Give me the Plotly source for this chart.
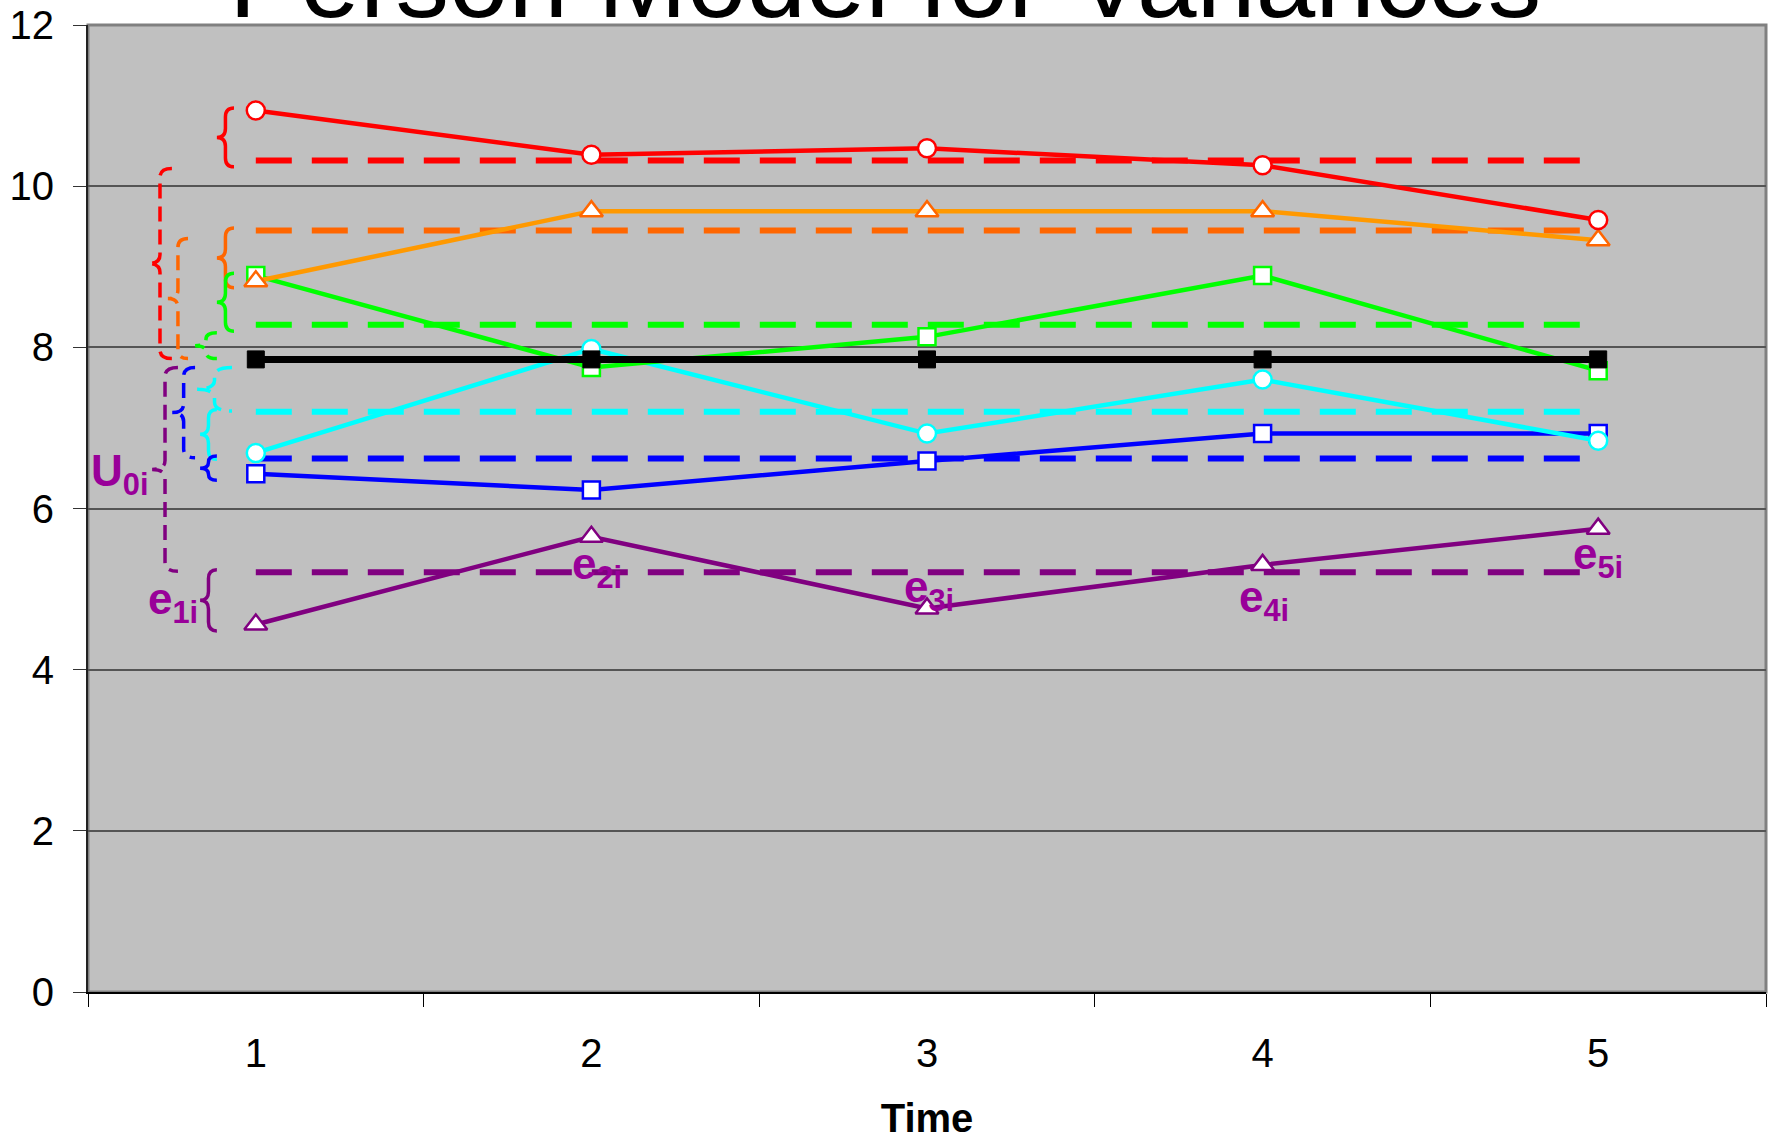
import plotly.graph_objects as go

# ---------------- data ----------------
times = [1, 2, 3, 4, 5]
tick_labels = ["1", "2", "3", "4", "5"]

red = [10.94, 10.39, 10.47, 10.26, 9.58]
orange = [8.82, 9.69, 9.69, 9.69, 9.33]
green = [8.89, 7.75, 8.13, 8.89, 7.71]
cyan = [6.69, 7.98, 6.93, 7.60, 6.84]
blue = [6.43, 6.23, 6.59, 6.93, 6.93]
purple = [4.56, 5.65, 4.76, 5.30, 5.75]

mean_red = 10.32
mean_orange = 9.45
mean_green = 8.28
mean_cyan = 7.20
mean_blue = 6.62
mean_purple = 5.21
grand_mean = [7.85, 7.85, 7.85, 7.85, 7.85]

y_ticks = [0, 2, 4, 6, 8, 10, 12]

title_text = "Person Model for Variances"
x_title = "Time"

# ---------------- styling ----------------
FONT = "Liberation Sans, Arial, sans-serif"
LABEL_COLOR = "#990099"

persons = [
    # name, values, mean, line colour, mean colour, symbol, marker line colour, solid brace x, dashed brace x
    ("red", red, mean_red, "#FF0000", "#FF0000", "circle", "#FF0000", (0.935, 0.884), (0.750, 0.679)),
    ("orange", orange, mean_orange, "#FF9900", "#FF6600", "triangle-up", "#FF6600", (0.935, 0.884), (0.798, 0.738)),
    ("green", green, mean_green, "#00FF00", "#00FF00", "square", "#00FF00", (0.935, 0.884), (0.884, 0.819)),
    ("cyan", cyan, mean_cyan, "#00FFFF", "#00FFFF", "circle", "#00FFFF", (0.884, 0.834), (0.929, 0.825)),
    ("blue", blue, mean_blue, "#0000FF", "#0000FF", "square", "#0000FF", (0.884, 0.834), (0.819, 0.751)),
    ("purple", purple, mean_purple, "#800080", "#800080", "triangle-up", "#800080", (0.884, 0.834), (0.768, 0.691)),
]

fig = go.Figure()

# dashed person means
for name, vals, m, lc, mc, sym, mlc, sbx, dbx in persons:
    fig.add_trace(go.Scatter(
        x=[times[0], times[-1]], y=[m, m], mode="lines",
        line=dict(color=mc, width=6, dash="36px,20px"),
        hoverinfo="skip", showlegend=False))

marker_size = {"circle": 18, "triangle-up": 20, "square": 17}


def add_person(p):
    name, vals, m, lc, mc, sym, mlc, sbx, dbx = p
    fig.add_trace(go.Scatter(
        x=times, y=vals, mode="lines+markers", name=name,
        line=dict(color=lc, width=4.5),
        marker=dict(symbol=sym, size=marker_size[sym], color="white",
                    line=dict(color=mlc, width=2.5)),
        showlegend=False))


by_name = {p[0]: p for p in persons}
for nm in ["purple", "blue", "cyan", "green"]:
    add_person(by_name[nm])

# grand mean (black)
fig.add_trace(go.Scatter(
    x=times, y=grand_mean, mode="lines+markers",
    line=dict(color="black", width=7),
    marker=dict(symbol="square", size=17, color="black", line=dict(color="black", width=1)),
    showlegend=False))

for nm in ["orange", "red"]:
    add_person(by_name[nm])


# ---------------- braces ----------------
def brace_path(xr, xt, ytop, ybot, rmax=0.11):
    xm = (xr + xt) / 2.0
    ym = (ytop + ybot) / 2.0
    r = min(rmax, (ytop - ybot) / 4.0)
    return (f"M {xr},{ytop} Q {xm},{ytop} {xm},{ytop - r} "
            f"L {xm},{ym + r} Q {xm},{ym} {xt},{ym} "
            f"Q {xm},{ym} {xm},{ym - r} L {xm},{ybot + r} "
            f"Q {xm},{ybot} {xr},{ybot}")


shapes = []
gm = grand_mean[0]
for name, vals, m, lc, mc, sym, mlc, sbx, dbx in persons:
    # residual brace at time 1 (solid)
    top = max(vals[0], m) + 0.03
    bot = min(vals[0], m) - 0.08
    shapes.append(dict(type="path", xref="x", yref="y",
                       path=brace_path(sbx[0], sbx[1], top, bot),
                       line=dict(color=mc, width=3.5)))
    # person-level deviation brace (dashed)
    top = max(gm, m) - 0.1
    bot = min(gm, m) + 0.01
    shapes.append(dict(type="path", xref="x", yref="y",
                       path=brace_path(dbx[0], dbx[1], top, bot),
                       line=dict(color=mc, width=3.5, dash="15px,8px")))

# plot-area border
shapes.append(dict(type="rect", xref="paper", yref="paper", x0=0, x1=1, y0=0, y1=1,
                   line=dict(color="#808080", width=3), layer="below"))

# ---------------- labels ----------------
lab_font = dict(family=FONT, size=44, color=LABEL_COLOR)
p_dash_x = by_name["purple"][8]
p_sol_x = by_name["purple"][7]
annotations = [
    dict(text="<b>U<sub>0i</sub></b>", x=p_dash_x[1], y=(gm + mean_purple) / 2,
         xref="x", yref="y", xanchor="right", yanchor="middle", showarrow=False,
         font=lab_font, xshift=-2, yshift=-8),
    dict(text="<b>e<sub>1i</sub></b>", x=p_sol_x[1], y=(purple[0] + mean_purple) / 2,
         xref="x", yref="y", xanchor="right", yanchor="middle", showarrow=False,
         font=lab_font, xshift=0, yshift=-4),
    dict(text="<b>e<sub>2i</sub></b>", x=times[1], y=purple[1], xref="x", yref="y",
         xanchor="center", yanchor="top", showarrow=False, font=lab_font, xshift=6, yshift=0),
    dict(text="<b>e<sub>3i</sub></b>", x=times[2], y=purple[2], xref="x", yref="y",
         xanchor="center", yanchor="bottom", showarrow=False, font=lab_font, xshift=2, yshift=-12),
    dict(text="<b>e<sub>4i</sub></b>", x=times[3], y=purple[3], xref="x", yref="y",
         xanchor="center", yanchor="top", showarrow=False, font=lab_font, xshift=1, yshift=-5),
    dict(text="<b>e<sub>5i</sub></b>", x=times[4], y=purple[4], xref="x", yref="y",
         xanchor="center", yanchor="top", showarrow=False, font=lab_font, xshift=0, yshift=2),
    # chart title (cut off by the top of the page, as in the original)
    dict(text=title_text, x=(884.5 - 88) / 1678, y=1, xref="paper", yref="paper",
         xanchor="center", yanchor="bottom", showarrow=False, yshift=-17,
         font=dict(family=FONT, size=107, color="black")),
]

boundaries = [t - 0.5 for t in times] + [times[-1] + 0.5]

fig.update_layout(
    width=1769, height=1140,
    margin=dict(l=88, r=3, t=25, b=148, pad=0),
    paper_bgcolor="white", plot_bgcolor="#C0C0C0",
    showlegend=False,
    shapes=shapes, annotations=annotations,
    font=dict(family=FONT, color="black"),
    xaxis=dict(
        range=[boundaries[0], boundaries[-1]],
        tickmode="array", tickvals=times, ticktext=tick_labels,
        ticks="", showgrid=False, zeroline=False,
        showline=True, linecolor="black", linewidth=2,
        tickfont=dict(family=FONT, size=40, color="black"),
        ticklabelstandoff=25,
        minor=dict(tickmode="array", tickvals=boundaries, ticks="outside",
                   ticklen=13, tickwidth=1, tickcolor="black", showgrid=False),
        title=dict(text=f"<b>{x_title}</b>", standoff=35,
                   font=dict(family=FONT, size=40, color="black")),
    ),
    yaxis=dict(
        range=[0, 12], tickmode="array", tickvals=y_ticks,
        ticks="outside", ticklen=13, tickwidth=1, tickcolor="#333333",
        showgrid=True, gridcolor="#555555", gridwidth=1.5,
        zeroline=False, showline=True, linecolor="#222222", linewidth=2,
        tickfont=dict(family=FONT, size=40, color="black"),
        ticklabelstandoff=11,
    ),
)

fig.write_html("out.html")
